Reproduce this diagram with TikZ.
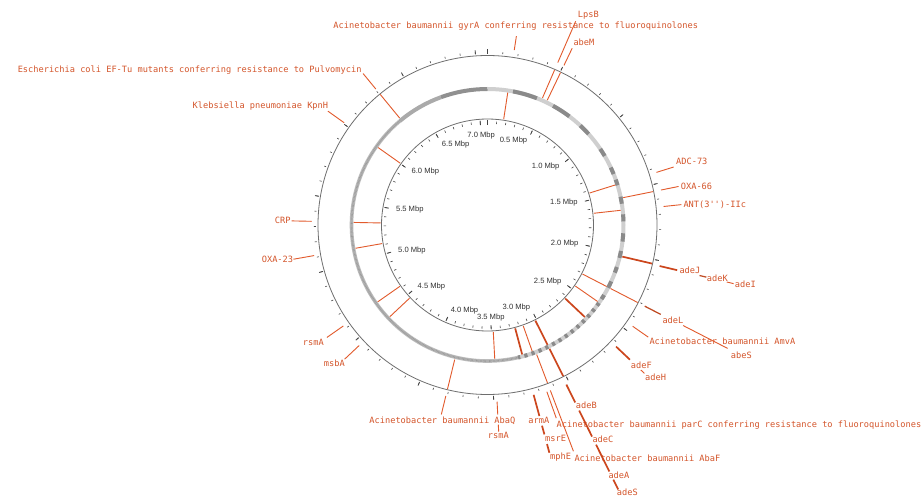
\documentclass[tikz,border=0pt]{standalone}
\usepackage{fontspec}
\setmainfont{Liberation Sans}
\newfontfamily\monof{DejaVu Sans Mono}
\definecolor{labc}{HTML}{D4552B}
\definecolor{linec}{HTML}{E25A2C}
\definecolor{thickc}{HTML}{CC461D}
\definecolor{circc}{HTML}{6E6E6E}
\definecolor{tickc}{HTML}{444444}
\definecolor{mbpc}{HTML}{333333}
\definecolor{ringlight}{HTML}{CFCFCF}
\definecolor{ringdark}{HTML}{8A8A8A}
\definecolor{ringmid}{HTML}{BDBDBD}
\definecolor{ringtex}{HTML}{9A9A9A}
\newcommand\rarc[3]{\draw[#3] ({90-(#1)}:136) arc[start angle={90-(#1)}, end angle={90-(#2)}, radius=136];}
\newcommand\rad[4]{\draw[#4] ({90-(#1)}:#2) -- ({90-(#1)}:#3);}
\tikzset{
  lab/.style={font=\monof\fontsize{8.65}{10}\selectfont, text=labc, inner sep=0pt, text height=6.3pt, text depth=1.9pt},
  mbp/.style={font=\fontsize{7.6}{9}\selectfont, text=mbpc, inner sep=0pt},
  feat/.style={draw=linec, line width=0.9},
  featm/.style={draw=linec!85!black, line width=1.25},
  featk/.style={draw=thickc, line width=1.7},
  ring/.style={line width=4},
  circ/.style={draw=circc, line width=0.8},
  tck/.style={draw=tickc, line width=0.6}
}
\begin{document}
\begin{tikzpicture}[x=1pt,y=1pt]
\useasboundingbox[fill=white] (-487.5,-273) rectangle (433.5,225);
% circles
\draw[circ] (0,0) circle[radius=106];
\draw[circ] (0,0) circle[radius=169.5];
% ring
\rarc{0}{167}{ring, draw=ringlight}
\rarc{167}{320}{line width=3.6, draw=ringmid}
\rarc{167}{320}{line width=2, draw=ringtex, dash pattern=on 0.6pt off 0.7pt}
\rarc{320}{340}{ring, draw=ringmid!90!black}
\rarc{340}{360}{ring, draw=ringdark!95!white}
\foreach \a/\b in {10.8/21.3, 28.8/37, 43/48, 56/59.5, 65/68, 70.5/73, 78/81, 85.5/88.5, 93.5/97, 101/104, 108/110.5, 114.5/117.5, 121/123}{
  \rarc{\a}{\b}{ring, draw=ringdark}
}
\rarc{125}{167}{ring, draw=ringdark, dash pattern=on 3.2pt off 4.3pt}
% ticks
\foreach \i in {1,...,70}{
  \pgfmathsetmacro\ang{90-\i*5.085}
  \draw[tck] (\ang:103.8) -- (\ang:101.4);
  \draw[tck] (\ang:171.6) -- (\ang:173.6);
}
\foreach \i in {5,10,...,70}{
  \pgfmathsetmacro\ang{90-\i*5.085}
  \draw[tck, line width=0.8] (\ang:104.5) -- (\ang:100.2);
  \draw[tck, line width=0.8] (\ang:171) -- (\ang:175);
}
\draw[tck, line width=1.6] (90:105.2) -- (90:100);
\draw[tck, line width=1.6] (90:171) -- (90:175.5);
% Mbp labels
\foreach \k/\t in {1/0.5,2/1.0,3/1.5,4/2.0,5/2.5,6/3.0}{
  \pgfmathsetmacro\ang{90-\k*25.425}
  \node[mbp, anchor=east] (m\k) at (\ang:93) {\t\ Mbp};
}
\foreach \k/\t in {8/4.0,9/4.5,10/5.0,11/5.5,12/6.0,13/6.5}{
  \pgfmathsetmacro\ang{90-\k*25.425}
  \node[mbp, anchor=west] (m\k) at (\ang:93) {\t\ Mbp};
}
\node[mbp] (m7) at ({90-7*25.425}:93) {3.5 Mbp};
\node[mbp] (m14) at ({90-14*25.425}:90) {7.0 Mbp};
% inner band feature lines
\foreach \t in {8.7, 72.6, 83.7, 117.3, 124.8, 160.5, 176.9, 226.8, 235, 260, 271.1, 305.3}{
  \rad{\t}{107}{134}{feat}
}
\foreach \t in {133.4, 153.4, 165}{
  \rad{\t}{107}{134}{featk}
}
% outer band feature lines
\foreach \t in {23.4, 25.6, 78.6, 117.3, 159.2, 193.7, 320.6}{
  \rad{\t}{138.5}{169}{feat}
}
\foreach \t in {103.2, 153.4}{
  \rad{\t}{138.5}{169}{featk}
}
% labels
\node[lab, anchor=west] (gyrA) at (-154.2,198.3) {Acinetobacter baumannii gyrA conferring resistance to fluoroquinolones};
\node[lab, anchor=west] (lpsB) at (90.2,210) {LpsB};
\node[lab, anchor=west] (abeM) at (85.8,181.7) {abeM};
\node[lab, anchor=east] (pulvo) at (-125.8,155) {Escherichia coli EF-Tu mutants conferring resistance to Pulvomycin};
\node[lab, anchor=east] (kpnH) at (-159.2,118.3) {Klebsiella pneumoniae KpnH};
\node[lab, anchor=east] (crp) at (-196.8,3.3) {CRP};
\node[lab, anchor=east] (oxa23) at (-194.2,-35) {OXA-23};
\node[lab, anchor=east] (rsmAl) at (-163.5,-118.3) {rsmA};
\node[lab, anchor=east] (msbA) at (-142.5,-139.3) {msbA};
\node[lab, anchor=west] (adc73) at (188.5,62.3) {ADC-73};
\node[lab, anchor=west] (oxa66) at (193.2,37.7) {OXA-66};
\node[lab, anchor=west] (ant) at (195.8,20) {ANT(3\textquotesingle\textquotesingle)-IIc};
\node[lab, anchor=west] (adeJ) at (191.8,-46.7) {adeJ};
\node[lab, anchor=west] (adeK) at (219.2,-54.3) {adeK};
\node[lab, anchor=west] (adeI) at (247.2,-60) {adeI};
\node[lab, anchor=west] (adeL) at (174.8,-96.7) {adeL};
\node[lab, anchor=west] (amvA) at (161.8,-117.7) {Acinetobacter baumannii AmvA};
\node[lab, anchor=west] (abeS) at (243.2,-131) {abeS};
\node[lab, anchor=west] (adeF) at (143.2,-141) {adeF};
\node[lab, anchor=west] (adeH) at (157.5,-153.3) {adeH};
\node[lab, anchor=west] (adeB) at (88.2,-181.7) {adeB};
\node[lab, anchor=west] (parC) at (69,-200) {Acinetobacter baumannii parC conferring resistance to fluoroquinolones};
\node[lab, anchor=west] (adeC) at (104.8,-215.7) {adeC};
\node[lab, anchor=west] (abaF) at (86.8,-234.3) {Acinetobacter baumannii AbaF};
\node[lab, anchor=west] (adeA) at (120.8,-251) {adeA};
\node[lab, anchor=west] (adeS) at (129.2,-268.3) {adeS};
\node[lab, anchor=west] (armA) at (40.8,-196) {armA};
\node[lab, anchor=west] (msrE) at (57.5,-214.3) {msrE};
\node[lab, anchor=west] (mphE) at (62.5,-232.3) {mphE};
\node[lab, anchor=west] (abaQ) at (-118.2,-196.7) {Acinetobacter baumannii AbaQ};
\node[lab, anchor=west] (rsmAb) at (0.2,-211.7) {rsmA};
% leaders
\rad{8.7}{177}{191}{feat}
\rad{23.4}{177}{222}{feat}
\rad{25.6}{177}{196}{feat}
\rad{72.7}{177}{195}{feat}
\rad{78.6}{177}{195}{feat}
\rad{84}{177}{195}{feat}
\rad{103.4}{177}{195}{featk}
\rad{103.4}{218}{225}{featm}
\rad{103.4}{246}{253}{feat}
\rad{117.3}{177}{195}{featm}
\rad{117.2}{220}{270}{feat}
\rad{124.9}{177}{196}{feat}
\rad{133.4}{177}{196}{featk}
\rad{133.4}{211}{216}{feat}
\rad{153.7}{178}{198}{featk}
\rad{153.7}{207}{236}{featk}
\rad{153.7}{245}{275}{featk}
\rad{153.7}{284}{295}{featk}
\rad{160.4}{177}{205}{feat}
\rad{159.2}{177}{242}{feat}
\rad{164.8}{176}{198}{featk}
\rad{164.8}{208}{217}{featk}
\rad{164.8}{227}{236}{featk}
\rad{176.9}{177}{190}{feat}
\rad{176.9}{200}{207}{feat}
\rad{193.7}{176}{195}{feat}
\rad{226.8}{176}{196}{feat}
\rad{235}{176}{196}{feat}
\rad{260}{176}{197}{feat}
\rad{271.2}{176}{196}{feat}
\rad{305.5}{176}{196}{feat}
\rad{320.6}{176}{196}{feat}
\end{tikzpicture}
\end{document}
